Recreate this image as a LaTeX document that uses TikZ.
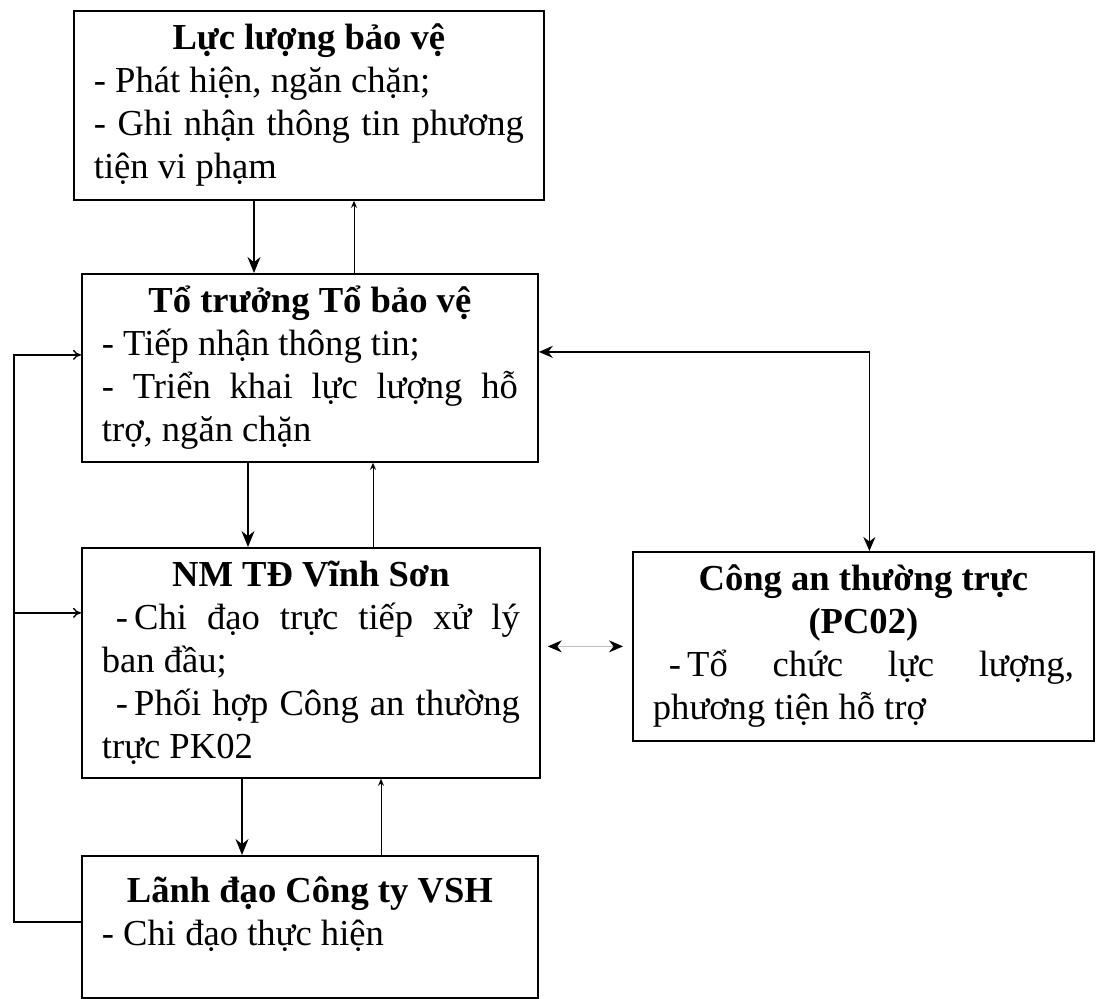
\documentclass[tikz,border=0pt]{standalone}
\usepackage{fontspec}
\setmainfont{Liberation Serif}
\usetikzlibrary{arrows.meta}
\hbadness=10000

\begin{document}
\begin{tikzpicture}[x=0.5pt,y=-0.5pt,
    box/.style={draw, line width=0.9pt, anchor=north west, inner xsep=10pt, inner ysep=0pt,
      align=justify, font=\fontsize{18.3}{21.5}\selectfont},
    dn/.style={-{Stealth[length=8pt,width=6.5pt]}, line width=0.8pt},
    up/.style={-{Stealth[length=3.5pt,width=3pt]}, line width=0.5pt},
    side/.style={-{To[length=4pt,width=5pt]}, line width=0.7pt},
    both/.style={{Stealth[length=7pt,width=6pt]}-{Stealth[length=7pt,width=6pt]}, line width=0.8pt},
    pair/.style={{Stealth[length=7pt,width=6pt,color=black]}-{Stealth[length=7pt,width=6pt,color=black]},
      draw=black!25, line width=0.5pt, shorten <=3.5pt, shorten >=4.5pt}]
    \useasboundingbox (0,0) rectangle (1100,999);
    % boxes
    \node[box, text width=215pt, minimum height=94.5pt] (luc) at (73,10)
      {{\centering\bfseries Lực lượng bảo vệ\par}
       - Phát hiện, ngăn chặn;\par
       - Ghi nhận thông tin phương\linebreak tiện vi phạm};
    \node[box, text width=208pt, minimum height=94pt] (to) at (81,273)
      {{\centering\bfseries Tổ trưởng Tổ bảo vệ\par}
       - Tiếp nhận thông tin;\par
       - Triển khai lực lượng hỗ\linebreak trợ, ngăn chặn};
    \node[box, text width=209pt, minimum height=115pt] (nm) at (81,547)
      {{\centering\bfseries NM TĐ Vĩnh Sơn\par}
       \hspace*{7pt}-\,Chi đạo trực tiếp xử lý\linebreak ban đầu;\par
       \hspace*{7pt}-\,Phối hợp Công an thường\linebreak trực PK02};
    \node[box, text width=208pt, minimum height=71pt] (lanh) at (81,855)
      {{\centering\bfseries Lãnh đạo Công ty VSH\par}
       - Chi đạo thực hiện\rule[-16pt]{0pt}{16pt}};
    \node[box, text width=210.5pt, minimum height=94.5pt] (ca) at (632,551)
      {{\centering\bfseries Công an thường trực\\(PC02)\par}
       \hspace*{8pt}-\,Tổ chức lực lượng,\linebreak phương tiện hỗ trợ};
    % columns of the vertical arrows
    \coordinate (c1) at (254,0);
    \coordinate (c2) at (354,0);
    \coordinate (c3) at (248,0);
    \coordinate (c4) at (373,0);
    \coordinate (c5) at (242,0);
    \coordinate (c6) at (381,0);
    \draw[dn] (luc.south -| c1) -- (to.north -| c1);
    \draw[up] (to.north -| c2) -- (luc.south -| c2);
    \draw[dn] (to.south -| c3) -- (nm.north -| c3);
    \draw[up] (nm.north -| c4) -- (to.south -| c4);
    \draw[dn] (nm.south -| c5) -- (lanh.north -| c5);
    \draw[up] (lanh.north -| c6) -- (nm.south -| c6);
    % loop on the left
    \draw[side] (lanh.west) ++(0,-5) -- ++(-67,0) |- ([yshift=6.5pt]to.west);
    \draw[side] (lanh.west) ++(-67,-5) |- ([yshift=25pt]nm.west);
    % police
    \draw[both] ([yshift=8pt]to.east) -| ([xshift=3pt]ca.north);
    \draw[pair] (nm.east |- ca.west) -- (ca.west);
\end{tikzpicture}
\end{document}
